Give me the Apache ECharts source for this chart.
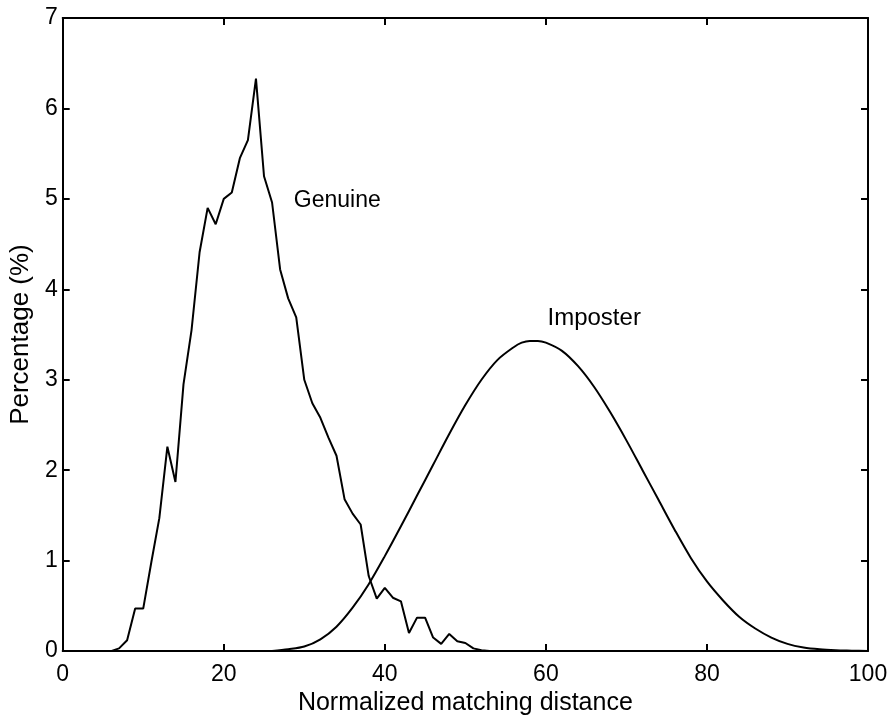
<!DOCTYPE html>
<html>
<head>
<meta charset="utf-8">
<script src="https://cdn.jsdelivr.net/npm/echarts@6/dist/echarts.min.js"></script>
<style>html,body{margin:0;padding:0;background:#fff}#c{width:892px;height:721px}</style>
</head>
<body>
<div id="c"></div>
<script>
// Genuine distribution (x = normalized matching distance, y = percentage)
const genuineX = [6,7,8,9,10,11,12,13,14,15,16,17,18,19,20,21,22,23,24,25,26,27,28,29,30,31,32,33,34,35,36,37,38,39,40,41,42,43,44,45,46,47,48,49,50,51,52,53];
const genuineY = [0,0.03,0.12,0.47,0.47,0.98,1.47,2.26,1.87,2.95,3.55,4.41,4.9,4.72,5.0,5.07,5.45,5.65,6.33,5.25,4.96,4.22,3.9,3.69,3.0,2.74,2.58,2.36,2.16,1.68,1.52,1.4,0.83,0.58,0.7,0.59,0.55,0.2,0.37,0.37,0.15,0.08,0.19,0.11,0.09,0.03,0.01,0];
// Imposter distribution
const imposterX = [26,28,30,32,34,36,38,40,42,44,46,48,50,52,54,56,57,58,59,60,62,64,66,68,70,72,74,76,78,80,82,84,86,88,90,92,94,96,98,100];
const imposterY = [0,0.02,0.05,0.13,0.27,0.48,0.74,1.05,1.38,1.72,2.06,2.4,2.72,3.0,3.22,3.36,3.41,3.43,3.43,3.41,3.32,3.15,2.92,2.64,2.33,2.0,1.67,1.34,1.03,0.77,0.56,0.38,0.25,0.15,0.08,0.04,0.02,0.01,0.005,0];
const xTicks = [0,20,40,60,80,100];
const yTicks = [0,1,2,3,4,5,6,7];
const labels = [
  {name:'Genuine', x:34.1, y:4.98},
  {name:'Imposter', x:66.0, y:3.68}
];

const font = '"Liberation Sans", Arial, Helvetica, sans-serif';
const pair = (xs, ys) => xs.map((x,i)=>[x, ys[i]]);
const chart = echarts.init(document.getElementById('c'), null, {renderer:'canvas'});
const lineStyle = {color:'#000', width:2};
const baseAxisX = {
  type:'value', min:xTicks[0], max:xTicks[xTicks.length-1], interval:20,
  axisLine:{show:true, onZero:false, lineStyle:{color:'#000', width:2}},
  axisTick:{show:true, inside:true, length:7, lineStyle:{color:'#000', width:2}},
  splitLine:{show:false}
};
const baseAxisY = {
  type:'value', min:yTicks[0], max:yTicks[yTicks.length-1], interval:1,
  axisLine:{show:true, onZero:false, lineStyle:{color:'#000', width:2}},
  axisTick:{show:true, inside:true, length:7, lineStyle:{color:'#000', width:2}},
  splitLine:{show:false}
};
chart.setOption({
  animation:false,
  backgroundColor:'#fff',
  grid:{left:58, right:24, top:18, bottom:67, containLabel:false},
  xAxis:[
    Object.assign({}, baseAxisX, {
      position:'bottom',
      axisLabel:{color:'#000', fontSize:23, fontFamily:font, margin:12},
      name:'Normalized matching distance', nameLocation:'middle', nameGap:36,
      nameTextStyle:{color:'#000', fontSize:25, fontFamily:font}
    }),
    Object.assign({}, baseAxisX, {position:'top', axisLabel:{show:false}})
  ],
  yAxis:[
    Object.assign({}, baseAxisY, {
      position:'left',
      axisLabel:{color:'#000', fontSize:23, fontFamily:font, margin:5},
      name:'Percentage (%)', nameLocation:'middle', nameGap:22, nameRotate:90,
      nameTextStyle:{color:'#000', fontSize:26, fontFamily:font}
    }),
    Object.assign({}, baseAxisY, {position:'right', axisLabel:{show:false}})
  ],
  series:[
    {
      name:'Genuine', type:'line', data:pair(genuineX, genuineY), showSymbol:false, symbol:'none',
      lineStyle:lineStyle, smooth:false,
      markPoint:{
        symbol:'circle', symbolSize:0, silent:true,
        label:{show:true, position:'inside', color:'#000', fontSize:23, fontFamily:font, formatter:p=>p.name},
        data:[{name:labels[0].name, coord:[labels[0].x, labels[0].y]}]
      }
    },
    {
      name:'Imposter', type:'line', data:pair(imposterX, imposterY), showSymbol:false, symbol:'none',
      lineStyle:lineStyle, smooth:0.3,
      markPoint:{
        symbol:'circle', symbolSize:0, silent:true,
        label:{show:true, position:'inside', color:'#000', fontSize:24, fontFamily:font, formatter:p=>p.name},
        data:[{name:labels[1].name, coord:[labels[1].x, labels[1].y]}]
      }
    }
  ]
});
</script>
</body>
</html>
